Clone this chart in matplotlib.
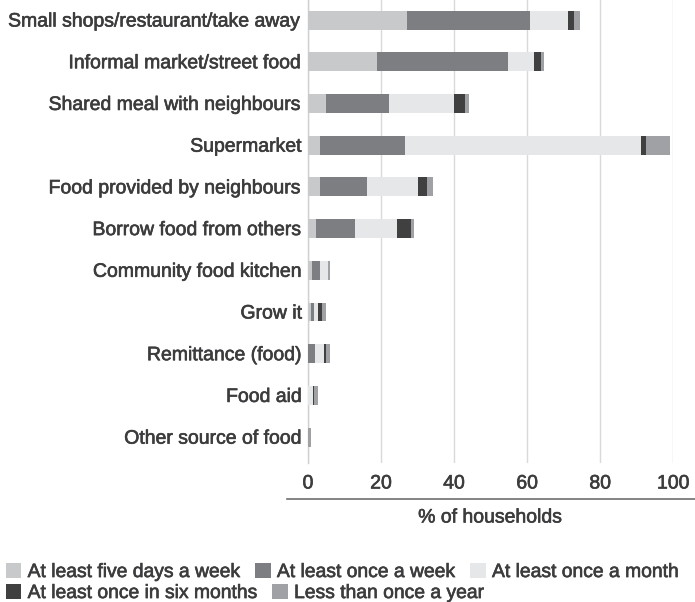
import numpy as np
import matplotlib
matplotlib.use('Agg')
import matplotlib.pyplot as plt
import matplotlib.patheffects as pe
from matplotlib.patches import Patch
from matplotlib.lines import Line2D

plt.rcParams['font.family'] = ['Liberation Sans', 'DejaVu Sans']

# categories, top to bottom
sources = ['Small shops/restaurant/take away', 'Informal market/street food',
           'Shared meal with neighbours', 'Supermarket',
           'Food provided by neighbours', 'Borrow food from others',
           'Community food kitchen', 'Grow it', 'Remittance (food)',
           'Food aid', 'Other source of food']

# % of households per frequency
five_days = [27.2, 18.8, 4.9, 3.3, 3.3, 2.2, 1.1, 0.8, 0.0, 0.0, 0.0]
once_week = [33.5, 36.0, 17.2, 23.2, 12.8, 10.6, 2.2, 0.8, 1.9, 0.0, 0.0]
once_month = [10.5, 7.1, 18.0, 64.6, 13.9, 11.7, 2.2, 1.1, 2.5, 1.4, 0.0]
six_months = [1.6, 1.9, 3.0, 1.4, 2.5, 3.6, 0.0, 1.1, 0.5, 0.3, 0.0]
less_year = [1.7, 0.8, 1.1, 6.5, 1.6, 0.8, 0.5, 1.1, 1.1, 1.1, 0.8]

series = [five_days, once_week, once_month, six_months, less_year]
names = ['At least five days a week', 'At least once a week',
         'At least once a month', 'At least once in six months',
         'Less than once a year']
colors = ['#c8c9cb', '#7d7e81', '#e6e7e8', '#404041', '#a0a1a4']
txt = '#3c3c3e'
bold = [pe.withStroke(linewidth=0.45, foreground=txt)]

fig = plt.figure(figsize=(6.95, 6.02), dpi=100)
ax = fig.add_axes([308/695, 1 - 463/602, (673.3 - 308)/695, 463/602])

y = np.arange(len(sources))
left = np.zeros(len(sources))
for vals, c in zip(series, colors):
    vals = np.array(vals)
    ax.barh(y, vals, left=left, height=0.455, color=c, zorder=3)
    left += vals

ax.set_xlim(0, 100)
ax.set_ylim(10.62, -0.48)
ax.set_xticks([0, 20, 40, 60, 80, 100])
ax.set_yticks(y)
ax.set_yticklabels(sources)
ax.tick_params(length=0, labelsize=14, colors=txt)
ax.tick_params(axis='x', pad=9)
ax.tick_params(axis='y', pad=4)
for t in ax.get_xticklabels() + ax.get_yticklabels():
    t.set_path_effects(bold)
ax.grid(axis='x', color='#d9d9d9', lw=1.0, zorder=0)
for s in ['top', 'right', 'bottom']:
    ax.spines[s].set_visible(False)
ax.spines['left'].set_color('#d0d0d0')
ax.spines['left'].set_linewidth(1.0)

fig.add_artist(Line2D([287/695, 1.0], [1 - 499/602, 1 - 499/602],
                      color='#6d6e71', lw=1.2))
fig.text(490.5/695, 1 - 518/602, '% of households', ha='center',
         va='center', fontsize=14, color=txt, path_effects=bold)

handles = [Patch(facecolor=c, edgecolor='none', label=n)
           for c, n in zip(colors, names)]
leg_kw = dict(frameon=False, fontsize=13.9, handlelength=0.8,
              handleheight=0.8, handletextpad=0.32, columnspacing=0.8,
              borderpad=0, borderaxespad=0, loc='center left', labelcolor=txt)
leg1 = fig.legend(handles=handles[:3], ncol=3,
                  bbox_to_anchor=(6/695, 1 - 572/602), **leg_kw)
leg2 = fig.legend(handles=handles[3:], ncol=2,
                  bbox_to_anchor=(6/695, 1 - 593/602), **leg_kw)
for leg in (leg1, leg2):
    for t in leg.get_texts():
        t.set_path_effects(bold)

plt.savefig('out.png', dpi=100)
